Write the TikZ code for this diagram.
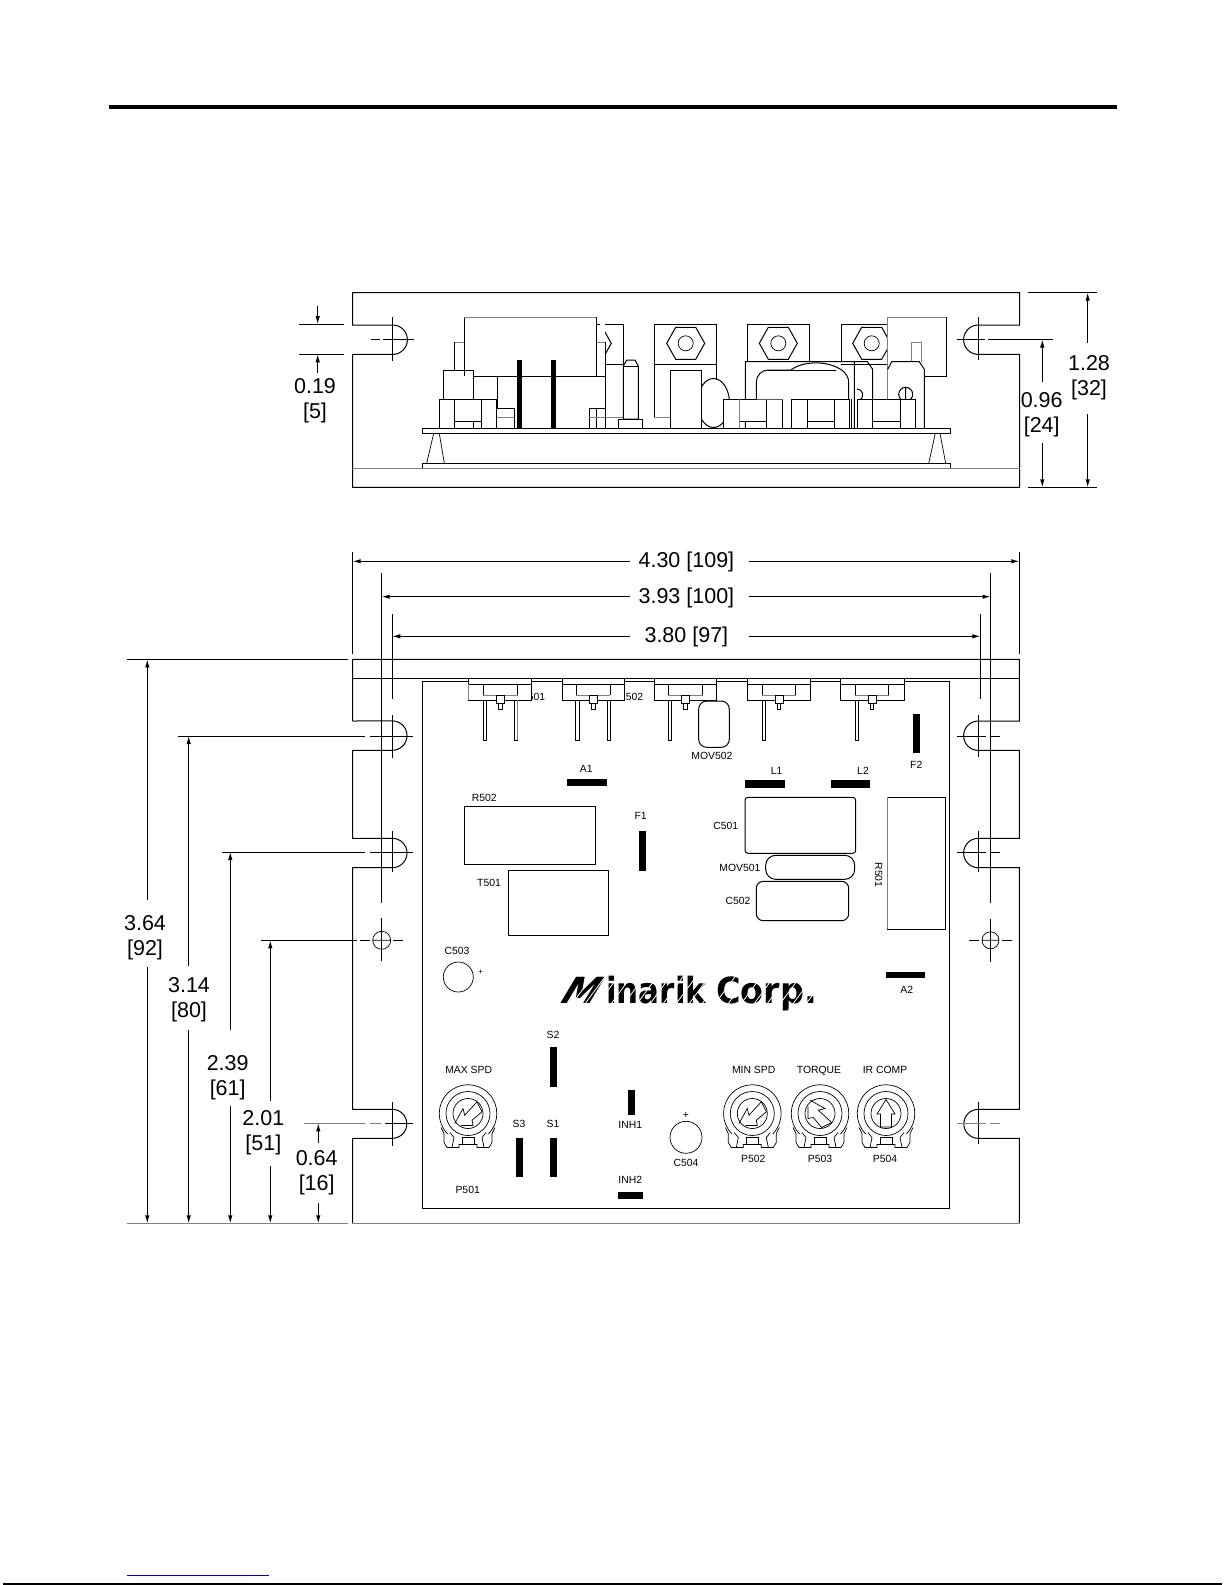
\documentclass[tikz,border=0pt]{standalone}
\usepackage{fontspec}
\setmainfont{Liberation Sans}
\newfontfamily\logofont{DejaVu Sans}
\usepackage{tikz}
\usetikzlibrary{arrows.meta}
\tikzset{
  obj/.style={line width=1pt,black},
  faint/.style={line width=1pt,black!50},
  thin part/.style={line width=.7pt,black},
  dim/.style={line width=1pt,black,-{Latex[length=8pt,width=4.5pt]}},
  dimtxt/.style={align=center,inner sep=0pt,yshift=-2.5pt,font=\fontsize{21.5}{25}\selectfont},
  widthtxt/.style={inner sep=0pt,yshift=-1pt,font=\fontsize{21.5}{25}\selectfont},
  lbl/.style={inner sep=0pt,text height=7.4pt,text depth=0pt,font=\fontsize{10.4}{12}\selectfont},
  bar/.style={fill=black,draw=none},
}
% hex nut with its hole, side view
\newcommand{\hexnut}[2]{
\draw[obj,fill=white] (#1-19,#2) -- (#1-10,#2-16) -- (#1+10,#2-16) -- (#1+19,#2) -- (#1+10,#2+16) -- (#1-10,#2+16) -- cycle;
\draw[thin part] (#1,#2) circle[radius=7.5pt];
}
% terminal block, side view
\newcommand{\sideblock}[4]{
\draw[obj,fill=white] (#1,399.3) rectangle (#4,428.3);
\draw[obj] (#2,399.3) -- (#2,428.3) (#3,399.3) -- (#3,428.3) (#2,421) -- (#3,421);
}
% terminal block, top view: left, right, inner left, inner right
\newcommand{\topblock}[4]{
\draw[obj,fill=white] (#1,678.3) rectangle (#2,700.3);
\draw[obj] (#1,684.3) -- (#2,684.3) (#3,684.3) -- (#3,695) (#4,684.3) -- (#4,695);
\draw[faint] (#3,695) -- (#4,695);
\draw[obj,fill=white] ({(#3+#4)/2-4},695.5) rectangle ({(#3+#4)/2+4},703.3);
\draw[obj] ({(#3+#4)/2-1.7},703.3) rectangle ({(#3+#4)/2+1.7},709.3);
}
\newcommand{\toppin}[1]{
\draw[obj] (#1,700.3) -- (#1,740) -- (#1+3.5,740) -- (#1+3.5,700.3);
}
% trimmer pot body at x,y
\newcommand{\trimpot}[2]{
\begin{scope}[shift={(#1,#2)}]
\draw[thin part] (20.4,20.4) arc[start angle=-45,end angle=225,radius=28.8pt];
\draw[thin part] (0,0) circle[radius=22pt] (0,0) circle[radius=15pt];
\draw[thin part] (-27,14) -- (-24,20) -- (-24,29) -- (-21,34) -- (-9,34) -- (-9,31) -- (9,31) -- (9,34) -- (21,34) -- (24,29) -- (24,20) -- (27,14);
\draw[thin part] (-18,19) -- (-14,24) -- (-16,34) (18,19) -- (14,24) -- (16,34);
\draw[thin part] (-6,24) rectangle (6,31);
\end{scope}
}
\newcommand{\boltglyph}[3]{
\draw[thin part,shift={(#1,#2)},rotate=#3] (-13.3,10) -- (-5,-5) -- (-3.3,1.7) -- (9,-11.7) -- (14,-1.7) -- (4,6.7) -- (5,12) -- (-7,12);
}
\begin{document}
\begin{tikzpicture}[x=1pt,y=-1pt]
\useasboundingbox (0,0) rectangle (1225,1585);
\draw[line width=4pt] (109,107) -- (1117,107);

% side view housing
\draw[obj] (352.7,325) -- (352.7,292.7) -- (1019.7,292.7) -- (1019.7,325) -- (978.3,325) arc[start angle=90,end angle=270,radius=14.7pt] -- (1019.7,354.4) -- (1019.7,487.3) -- (352.7,487.3) -- (352.7,354.4) -- (392.7,354.4) arc[start angle=-90,end angle=90,radius=14.7pt] -- cycle;
\draw[obj] (392.7,317) -- (392.7,361) (383,339.5) -- (414,339.5) (370.7,339.5) -- (380,339.5);
\draw[obj] (978.3,317) -- (978.3,360) (956.7,339.5) -- (985,339.5) (988,339.5) -- (1052.7,339.5);
\draw[faint] (352.7,468.3) -- (1019.7,468.3);
% board and plate
\draw[obj] (422.3,428.3) rectangle (950.3,433.3);
\draw[obj] (422.3,468.3) -- (422.3,463.3) -- (950.3,463.3) -- (950.3,468.3);
\draw[thin part] (426.7,463.3) -- (433.7,433.3) (439.3,433.3) -- (444.3,463.3);
\draw[thin part] (928.7,463.3) -- (935.3,433.3) (940,433.3) -- (945.7,463.3);
% side view parts, left
\draw[obj,fill=white] (596,324.3) -- (623.3,324.3) -- (623.3,417) (623.3,364.3) -- (605,364.3);
\hexnut{592.3}{343.3}
\fill[white] (464.3,317.3) rectangle (605.3,376.3);
\draw[obj] (596.3,324.3) -- (600,324.3);
\draw[faint] (605.3,417) -- (623.3,417);
\draw[faint] (454.3,342.3) -- (464.3,342.3);
\draw[obj] (454.3,342.3) -- (454.3,370);
\draw[obj,fill=white] (443.3,370) rectangle (473.3,399.3);
\draw[obj,fill=white] (439.3,399.3) rectangle (496.7,428.3);
\draw[obj] (454.3,399.3) -- (454.3,428.3) (481.3,399.3) -- (481.3,428.3) (454.3,421) -- (481.3,421) (473.3,421) -- (473.3,428.3);
\draw[obj] (473.3,376.3) -- (605.3,376.3) (497.3,376.3) -- (497.3,408.3) -- (514.3,408.3) -- (514.3,428.3);
\draw[faint] (497.3,417) -- (514.3,417);
\draw[faint] (596.3,342.3) -- (605.3,342.3);
\draw[obj] (605.3,342.3) -- (605.3,428.3) (589.3,428.3) -- (589.3,408.3) -- (605.3,408.3) (596.3,408.3) -- (596.3,428.3);
\draw[faint] (589.3,417) -- (605.3,417);
\draw[obj] (464.3,317.3) -- (464.3,376.3) (596.3,317.3) -- (596.3,376.3);
\draw[faint] (464.3,317.3) -- (596.3,317.3);
\fill[bar] (517,360) rectangle (522,428.3);
\fill[bar] (551,360) rectangle (556,428.3);
\draw[obj,fill=white] (623.3,366) -- (626.7,360) -- (635,360) -- (638.3,366) -- (638.3,419) -- (623.3,419) -- cycle;
\draw[obj] (623.3,366) -- (638.3,366);
\draw[obj] (618.3,428.3) rectangle (642.3,419);
% side view parts, middle
\draw[obj] (654.3,417) -- (654.3,324.3) -- (716.7,324.3) -- (716.7,380) (654.3,364.3) -- (716.7,364.3);
\draw[faint] (654.3,417) -- (670.3,417);
\hexnut{685.7}{343.3}
\draw[obj] (713.5,403) circle[x radius=16pt,y radius=24.5pt];
\draw[obj,fill=white] (670.3,370) rectangle (701.7,428.3);
\sideblock{723.3}{739.3}{766.7}{782.3}
\draw[faint] (739.3,399.3) -- (739.3,428.3);
\draw[obj] (747.3,361.7) -- (747.3,324.3) -- (809.7,324.3) -- (809.7,361.7);
\hexnut{778.3}{343.3}
\draw[obj] (745.3,399.3) -- (745.3,361.7) -- (867.3,361.7) -- (872.7,369.3) -- (872.7,428.3) (854.3,361.7) -- (854.3,428.3) (745.3,421) -- (745.3,428.3);
\draw[obj,fill=white] (756.3,399.3) -- (756.3,382) arc[start angle=180,end angle=90,radius=12pt] -- (791,370) .. controls (803,360.5) and (828,360.5) .. (841.7,370) .. controls (846,373) and (848.7,378) .. (848.7,382) -- (848.7,399.3);
\draw[obj] (768.3,370) -- (836,370);
\sideblock{791.3}{807.3}{834.3}{849.3}
\draw[obj] (851.7,399.3) -- (851.7,428.3);
\draw[obj] (856.7,389) arc[start angle=90,end angle=-60,radius=6pt];
% side view parts, right
\draw[obj] (841.3,361.7) -- (841.3,324.3) -- (887.7,324.3) (841.3,364.3) -- (887.7,364.3);
\hexnut{871.7}{343.3}
\fill[white] (887.7,317.3) rectangle (946.7,376.3);
\draw[faint] (887.7,428.3) -- (887.7,317.3) -- (946.7,317.3);
\draw[obj] (946.7,317.3) -- (946.7,376.3) -- (924.3,376.3);
\draw[faint] (911.7,361.7) -- (911.7,342.3) -- (921.7,342.3) -- (921.7,361.7);
\draw[obj] (887.7,369.3) -- (891.7,361.7) -- (919.3,361.7) -- (924.3,369.3) -- (924.3,428.3);
\draw[obj] (905.7,394.3) circle[radius=7pt] (905.7,387.3) -- (905.7,399.3);
\sideblock{857.3}{872.3}{900.7}{915.7}
% side view dimensions
\draw[obj] (299,324) -- (344,324) (299,354.3) -- (344,354.3);
\draw[dim] (317.7,306) -- (317.7,324);
\draw[dim] (317.7,372.7) -- (317.7,354.3);
\node[dimtxt] (sideslot) at (315,398.3) {0.19\\{}[5]};
\draw[obj] (1028,292.7) -- (1096.7,292.7) (1028,487.3) -- (1096.7,487.3);
\draw[dim] (1042.3,381.7) -- (1042.3,339.5);
\draw[dim] (1042.3,443.3) -- (1042.3,487.3);
\node[dimtxt] (sidecenter) at (1041.7,412.5) {0.96\\{}[24]};
\draw[dim] (1087.7,342.7) -- (1087.7,292.7);
\draw[dim] (1087.7,414) -- (1087.7,487.3);
\node[dimtxt] (sideheight) at (1089,375) {1.28\\{}[32]};

% top view housing
\draw[obj] (352.7,721) -- (352.7,659.3) -- (1019.3,659.3) -- (1019.3,721) -- (978.3,721) arc[start angle=90,end angle=270,radius=14.7pt] -- (1019.3,750.3) -- (1019.3,838.3) -- (978.3,838.3) arc[start angle=90,end angle=270,radius=14.7pt] -- (1019.3,867.7) -- (1019.3,1109.3) -- (978.3,1109.3) arc[start angle=90,end angle=270,radius=14.5pt] -- (1019.3,1138.3) -- (1019.3,1223.3);
\draw[obj] (352.7,1223.3) -- (352.7,1138.3) -- (392.3,1138.3) arc[start angle=-90,end angle=90,radius=14.5pt] -- (352.7,1109.3) -- (352.7,867.7) -- (392.3,867.7) arc[start angle=-90,end angle=90,radius=14.7pt] -- (352.7,838.3) -- (352.7,750.3) -- (392.3,750.3) arc[start angle=-90,end angle=90,radius=14.7pt] -- (352.7,721);
\draw[faint] (352.7,1223.3) -- (1019.3,1223.3);
\draw[obj] (352.7,678.3) -- (1019.3,678.3);
% centre lines
\draw[obj] (392.3,715) -- (392.3,757.7) (370,736) -- (413.3,736);
\draw[obj] (392.3,831) -- (392.3,872.3) (370,852) -- (413.3,852);
\draw[obj] (392.3,1102.3) -- (392.3,1145.7) (385,1123.3) -- (413.3,1123.3);
\draw[faint] (370,1123.3) -- (381,1123.3);
\draw[obj] (978.3,715) -- (978.3,756.7) (957.3,736) -- (986,736) (990,736) -- (1000,736);
\draw[obj] (978.3,831) -- (978.3,872.3) (957.3,852) -- (986,852) (990,852) -- (1000,852);
\draw[obj] (978.3,1101.7) -- (978.3,1144.3);
\draw[faint] (957.3,1123.3) -- (986,1123.3) (990,1123.3) -- (1000,1123.3);
% mounting holes
\draw[thin part] (381.7,940.3) circle[radius=9pt] (372.7,940.3) -- (390.7,940.3);
\draw[obj] (381.7,918) -- (381.7,960.7) (360,940.3) -- (370,940.3) (393,940.3) -- (402.7,940.3);
\draw[thin part] (990.5,940.3) circle[radius=8.5pt] (982,940.3) -- (999,940.3);
\draw[obj] (990.5,919.3) -- (990.5,961.7) (969.3,940.3) -- (979,940.3) (1002,940.3) -- (1011.7,940.3);
% extension lines
\draw[obj] (352.7,552) -- (352.7,654) (1019.3,552) -- (1019.3,654);
\draw[obj] (381.7,572.7) -- (381.7,903.3) (990.5,572.7) -- (990.5,903.3);
\draw[obj] (392.3,614) -- (392.3,699.3) (980.4,614) -- (980.4,699.3);
\draw[obj] (127.3,659.4) -- (348.3,659.4);
\draw[obj] (178.3,736) -- (365,736) (222.3,852) -- (365,852) (261,940.3) -- (356.7,940.3);
\draw[faint] (304,1123.3) -- (365,1123.3) (127.3,1223.3) -- (348.3,1223.3);
% board
\draw[obj] (422.3,681.3) rectangle (949.3,1208.3);
% pins and terminal blocks
\node[lbl,anchor=west] (t501) at (527.6,696.7) {501};
\node[lbl,anchor=west] (t502) at (625.6,696.7) {502};
\toppin{483.3}
\toppin{514}
\toppin{575.5}
\toppin{607}
\toppin{668}
\toppin{762}
\toppin{855.3}
\topblock{468.3}{531.3}{483.3}{517.7}
\draw[faint] (468.3,684.3) -- (468.3,700.3) (517.5,700.3) -- (517.5,740);
\topblock{562.3}{624.7}{576.3}{610.3}
\topblock{654.3}{716.7}{668.3}{702.7}
\topblock{747.3}{810.3}{762.3}{795.7}
\topblock{840.3}{904.3}{855.3}{888.7}
% board parts
\draw[obj,rounded corners=8pt,fill=white] (698.7,701) rectangle (729.3,747.3);
\node[lbl] (mov502) at (712,756) {MOV502};
\node[lbl] (a1) at (586.3,768.7) {A1};
\fill[bar] (567.3,779) rectangle (607,786);
\node[lbl] (r502) at (484.3,797.3) {R502};
\draw[obj] (464.3,806) rectangle (595.7,864.3);
\node[lbl] (f1) at (640.7,815.3) {F1};
\fill[bar] (639,831) rectangle (646,870.7);
\node[lbl] (t501lbl) at (489,882.3) {T501};
\draw[obj] (508.3,870.3) rectangle (608.7,935.3);
\node[lbl] (l1) at (776.7,771) {L1};
\fill[bar] (745,780) rectangle (785,787.7);
\node[lbl] (l2) at (863,771) {L2};
\fill[bar] (831,780) rectangle (870,787.7);
\fill[bar] (913,714) rectangle (920,753);
\node[lbl] (f2) at (916.3,765) {F2};
\node[lbl] (c501) at (725.7,826) {C501};
\draw[obj,rounded corners=3pt] (745,797.3) rectangle (855.7,853.3);
\node[lbl] (mov501) at (740,868) {MOV501};
\draw[obj,rounded corners=10pt] (765.7,855.3) rectangle (854.7,879.3);
\node[lbl] (c502) at (738,900.3) {C502};
\draw[obj,rounded corners=7pt] (756.3,881.3) rectangle (848.7,920.7);
\node[lbl,rotate=-90] (r501) at (878.7,875) {R501};
\draw[obj] (887.3,797.3) -- (945.7,797.3) -- (945.7,929.3) -- (887.3,929.3);
\draw[faint] (887.3,797.3) -- (887.3,929.3);
\node[lbl] (c503) at (457,951) {C503};
\draw[thin part] (458.3,977) circle[radius=15pt];
\node[inner sep=0pt,font=\fontsize{8}{9}\selectfont] (c503plus) at (480.7,972.3) {+};
\fill[bar] (886,972.3) rectangle (925,978.3);
\node[lbl] (a2) at (906.7,990) {A2};
% logo
\begin{scope}[shift={(557,1003.3)},xslant=.6]
\node[transform shape,anchor=base west,inner sep=0pt] (logom) at (0,0) {\scalebox{1}[1]{\fontsize{36}{36}\logofont\bfseries M}};
\end{scope}
\node[anchor=base west,inner sep=0pt] (logoa) at (606,1003.3) {\scalebox{.86}[1]{\fontsize{36}{36}\logofont\bfseries inarik}};
\node[anchor=base west,inner sep=0pt] (logoc) at (716,1003.3) {\scalebox{.93}[1]{\fontsize{36}{36}\logofont\bfseries Corp.}};
\foreach \sx in {566,579,...,815}
  \draw[white,line width=.8pt] (\sx,1012) -- ++(28,-38);
% switches and inhibit
\node[lbl] (s2) at (553,1034.3) {S2};
\fill[bar] (550,1047.3) rectangle (557,1086.7);
\node[lbl] (s3) at (519,1123.7) {S3};
\fill[bar] (516,1138) rectangle (523,1177);
\node[lbl] (s1) at (553,1123.7) {S1};
\fill[bar] (550,1138) rectangle (557,1177);
\fill[bar] (628,1090) rectangle (635,1115);
\node[lbl] (inh1) at (630.3,1124.7) {INH1};
\node[lbl] (inh2) at (630.3,1179.3) {INH2};
\fill[bar] (618,1192) rectangle (643,1198.7);
\node[inner sep=0pt,font=\fontsize{10.4}{12}\selectfont] (c504plus) at (686,1115.7) {+};
\draw[thin part] (686,1137.3) circle[radius=16pt];
\node[lbl] (c504) at (686,1162.3) {C504};
% pots
\node[lbl] (maxspd) at (468.7,1070) {MAX SPD};
\trimpot{468}{1113.5}
\boltglyph{468}{1113.5}{0}
\node[lbl] (p501) at (467.7,1189.3) {P501};
\node[lbl] (minspd) at (753.7,1069.7) {MIN SPD};
\trimpot{752.3}{1113.5}
\boltglyph{752.3}{1113.5}{0}
\node[lbl] (p502) at (753.3,1159) {P502};
\node[lbl] (torque) at (819,1069.7) {TORQUE};
\trimpot{820}{1113.5}
\boltglyph{820}{1113.5}{-90}
\node[lbl] (p503) at (820,1159) {P503};
\node[lbl] (ircomp) at (885,1069.7) {IR COMP};
\trimpot{886}{1113.5}
\draw[thin part] (886,1099.5) -- (877,1114) -- (880.5,1114) -- (880.5,1127) -- (891.5,1127) -- (891.5,1114) -- (895,1114) -- cycle;
\node[lbl] (p504) at (885,1159) {P504};
% top view dimensions, widths
\draw[dim] (630,561.3) -- (352.7,561.3);
\draw[dim] (748.5,561.3) -- (1019.3,561.3);
\node[widthtxt] (width430) at (686.4,561.3) {4.30 [109]};
\draw[dim] (630,596.7) -- (381.7,596.7);
\draw[dim] (748.5,596.7) -- (990.5,596.7);
\node[widthtxt] (width393) at (686.4,596.7) {3.93 [100]};
\draw[dim] (630,636.3) -- (392.3,636.3);
\draw[dim] (748.5,636.3) -- (980.4,636.3);
\node[widthtxt] (width380) at (686.4,636.3) {3.80 [97]};
% top view dimensions, heights
\draw[dim] (147.3,900) -- (147.3,659.4);
\draw[dim] (147.3,967.2) -- (147.3,1223.3);
\node[dimtxt] (high364) at (145,935.2) {3.64\\{}[92]};
\draw[dim] (188.7,966) -- (188.7,736);
\draw[dim] (188.7,1030.4) -- (188.7,1223.3);
\node[dimtxt] (high314) at (189,996.8) {3.14\\{}[80]};
\draw[dim] (230.3,1029.6) -- (230.3,852);
\draw[dim] (230.3,1106) -- (230.3,1223.3);
\node[dimtxt] (high239) at (227.7,1075) {2.39\\{}[61]};
\draw[dim] (270.3,1101) -- (270.3,940.3);
\draw[dim] (270.3,1166) -- (270.3,1223.3);
\node[dimtxt] (high201) at (263.3,1130) {2.01\\{}[51]};
\draw[dim] (318.3,1143) -- (318.3,1123.3);
\draw[dim] (318.3,1202.6) -- (318.3,1223.3);
\node[dimtxt] (high064) at (316.7,1170.6) {0.64\\{}[16]};
% page foot
\draw[line width=1.5pt,blue!85!black] (126.7,1575.3) -- (268.7,1575.3);
\draw[line width=2pt] (3,1584.4) -- (1222,1584.4);
\end{tikzpicture}
\end{document}
